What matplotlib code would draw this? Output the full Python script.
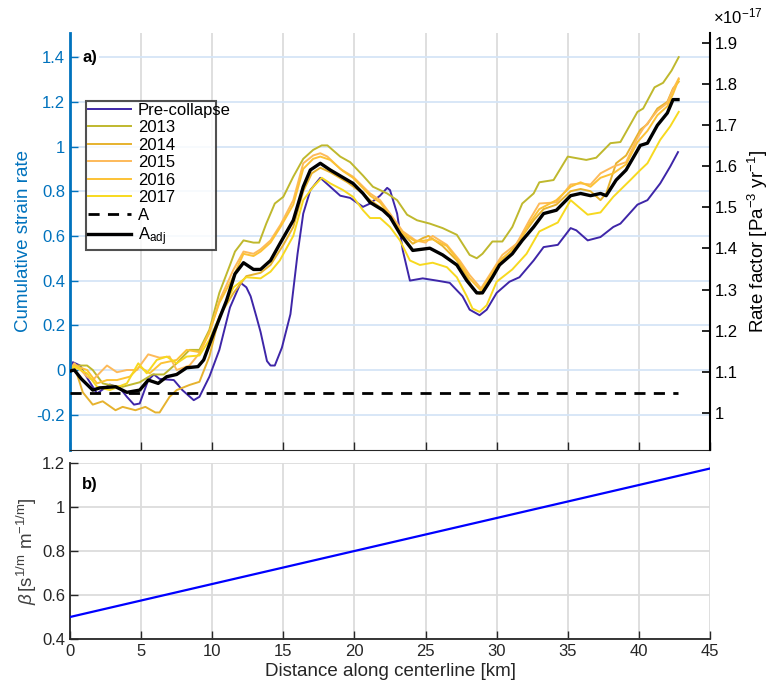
import matplotlib
matplotlib.use("Agg")
import matplotlib.pyplot as plt
from matplotlib.ticker import FuncFormatter

plt.rcParams['font.family'] = ['Liberation Sans', 'DejaVu Sans']
plt.rcParams['axes.unicode_minus'] = False
plt.rcParams['mathtext.fontset'] = 'custom'
plt.rcParams['mathtext.rm'] = 'Liberation Sans'
plt.rcParams['mathtext.it'] = 'Liberation Sans:italic'

# ---------------- data ----------------
pre_x = [0, 0.2, 0.7, 1.3, 1.9, 2.8, 3.5, 4.0, 4.5, 4.9, 5.5, 5.9, 6.3, 7.3, 7.9, 8.7, 9.1, 9.8, 10.5, 11.25,
         12.0, 12.4, 12.7, 13.1, 13.4, 13.85, 14.1, 14.4, 14.9, 15.5, 16.0, 16.4, 16.9, 17.6, 18.3, 19.0, 19.7,
         20.6, 21.1, 21.8, 22.3, 22.5, 23.0, 23.4, 23.9, 24.8, 25.8, 26.7, 27.6, 28.1, 28.8, 29.3, 30.0, 30.9,
         31.6, 32.6, 33.3, 34.3, 35.2, 35.6, 36.4, 37.3, 38.2, 38.7, 39.9, 40.6, 41.5, 42.2, 42.75]
pre_y = [-0.01, 0.035, 0.02, -0.045, -0.105, -0.065, -0.08, -0.12, -0.155, -0.15, -0.045, -0.02, -0.04, -0.045,
         -0.09, -0.135, -0.12, -0.03, 0.09, 0.28, 0.39, 0.37, 0.33, 0.24, 0.17, 0.04, 0.02, 0.02, 0.10, 0.25, 0.52,
         0.70, 0.805, 0.86, 0.82, 0.78, 0.77, 0.73, 0.745, 0.78, 0.815, 0.805, 0.70, 0.535, 0.40, 0.41, 0.40, 0.39,
         0.33, 0.27, 0.245, 0.27, 0.345, 0.395, 0.415, 0.49, 0.55, 0.56, 0.635, 0.625, 0.58, 0.595, 0.64, 0.655,
         0.74, 0.76, 0.835, 0.91, 0.975]

y2013_x = [0, 0.3, 1.2, 1.6, 2.3, 3.0, 3.7, 4.9, 5.8, 6.6, 7.5, 8.4, 9.1, 9.8, 10.5, 11.25, 11.6, 12.2, 12.9,
           13.3, 13.8, 14.4, 15.0, 15.7, 16.4, 17.1, 17.7, 18.1, 19.0, 19.7, 20.6, 21.3, 22.3, 23.0, 23.7, 24.4,
           25.3, 26.2, 27.2, 28.1, 28.6, 29.0, 29.7, 30.4, 31.1, 31.8, 32.6, 33.0, 34.0, 35.0, 36.3, 37.0, 38.0,
           38.7, 39.9, 40.3, 41.1, 41.7, 42.3, 42.8]
y2013_y = [0.01, 0.02, 0.02, 0.0, -0.06, -0.07, -0.075, -0.055, -0.02, -0.02, 0.03, 0.09, 0.09, 0.18, 0.345,
           0.47, 0.53, 0.58, 0.57, 0.57, 0.655, 0.745, 0.775, 0.865, 0.945, 0.985, 1.005, 1.005, 0.955, 0.93,
           0.87, 0.82, 0.79, 0.76, 0.695, 0.67, 0.655, 0.635, 0.605, 0.515, 0.50, 0.52, 0.575, 0.575, 0.64,
           0.745, 0.79, 0.84, 0.85, 0.955, 0.94, 0.95, 1.015, 1.02, 1.155, 1.17, 1.265, 1.285, 1.34, 1.40]

y2014_x = [0, 0.3, 0.9, 1.6, 2.3, 3.2, 3.7, 4.6, 5.3, 6.0, 6.3, 7.0, 7.5, 8.4, 9.1, 9.8, 10.5, 11.5, 12.4,
           13.4, 14.1, 15.0, 15.7, 16.4, 17.0, 17.6, 18.3, 19.5, 20.6, 21.1, 22.0, 22.5, 23.4, 24.1, 24.8, 25.2,
           26.2, 27.2, 27.9, 28.3, 28.8, 29.3, 30.0, 31.1, 31.8, 32.6, 33.3, 34.2, 35.2, 35.9, 36.6, 37.3, 37.7,
           38.4, 39.1, 40.1, 40.6, 41.3, 42.0, 42.4, 42.8]
y2014_y = [0.0, 0.02, -0.1, -0.155, -0.14, -0.18, -0.165, -0.18, -0.165, -0.19, -0.19, -0.12, -0.09, -0.067,
           -0.053, 0.06, 0.24, 0.345, 0.42, 0.435, 0.47, 0.56, 0.64, 0.80, 0.88, 0.905, 0.885, 0.84, 0.79, 0.76,
           0.72, 0.69, 0.61, 0.565, 0.59, 0.60, 0.555, 0.49, 0.42, 0.365, 0.34, 0.375, 0.47, 0.54, 0.60, 0.67,
           0.72, 0.74, 0.80, 0.81, 0.80, 0.76, 0.79, 0.925, 0.96, 1.075, 1.10, 1.17, 1.20, 1.26, 1.29]

y2015_x = [0, 0.3, 1.2, 1.6, 2.6, 3.3, 4.0, 4.7, 5.5, 6.3, 7.0, 7.5, 8.4, 9.1, 9.8, 10.5, 11.5, 12.2, 12.9,
           13.4, 14.1, 14.8, 15.7, 16.4, 17.1, 17.6, 18.1, 19.0, 19.9, 21.1, 21.8, 22.5, 23.4, 24.3, 25.0, 25.5,
           26.5, 27.4, 28.1, 28.9, 29.4, 30.4, 31.4, 32.3, 33.0, 34.2, 35.2, 35.9, 36.6, 37.3, 38.2, 39.1, 39.9,
           40.3, 41.3, 42.0, 42.4, 42.8]
y2015_y = [0.0, 0.03, -0.03, -0.045, 0.02, -0.01, 0.0, 0.0, 0.07, 0.055, 0.06, 0.0, 0.02, 0.075, 0.165, 0.31,
           0.45, 0.53, 0.52, 0.54, 0.58, 0.65, 0.76, 0.925, 0.96, 0.97, 0.955, 0.90, 0.865, 0.79, 0.76, 0.70,
           0.62, 0.58, 0.57, 0.60, 0.56, 0.49, 0.425, 0.365, 0.415, 0.515, 0.565, 0.67, 0.745, 0.75, 0.83,
           0.835, 0.83, 0.88, 0.91, 0.93, 1.04, 1.08, 1.16, 1.195, 1.255, 1.305]

y2016_x = [0, 0.3, 1.2, 1.9, 2.6, 3.3, 4.2, 4.9, 5.6, 6.4, 7.5, 8.2, 9.1, 9.8, 10.5, 11.5, 12.2, 12.9, 13.4,
           14.1, 14.8, 15.7, 16.4, 17.1, 17.6, 18.3, 19.2, 19.9, 21.1, 21.8, 22.5, 23.4, 24.3, 25.0, 25.5, 26.5,
           27.4, 28.1, 28.9, 29.4, 30.4, 31.4, 32.3, 33.0, 34.2, 35.2, 35.9, 36.6, 37.3, 38.2, 39.1, 39.9, 40.6,
           41.3, 42.0, 42.4, 42.8]
y2016_y = [0.0, 0.02, 0.0, -0.06, -0.045, -0.045, -0.03, 0.015, -0.015, 0.03, 0.045, 0.09, 0.08, 0.17, 0.30,
           0.42, 0.52, 0.51, 0.53, 0.57, 0.64, 0.74, 0.90, 0.945, 0.955, 0.94, 0.89, 0.86, 0.78, 0.75, 0.69,
           0.61, 0.575, 0.58, 0.585, 0.555, 0.48, 0.41, 0.355, 0.405, 0.50, 0.55, 0.655, 0.72, 0.76, 0.82, 0.84,
           0.82, 0.86, 0.88, 0.92, 1.02, 1.07, 1.14, 1.18, 1.235, 1.30]

y2017_x = [0, 0.3, 1.2, 1.9, 2.8, 4.0, 4.8, 5.4, 6.1, 6.8, 7.5, 8.2, 9.1, 9.8, 10.8, 11.5, 12.4, 13.4, 14.1,
           14.75, 15.7, 16.4, 17.1, 17.7, 18.3, 19.2, 19.9, 20.6, 21.1, 21.8, 22.5, 23.2, 23.9, 24.6, 25.5, 26.5,
           27.2, 27.9, 28.3, 28.8, 29.3, 30.0, 31.1, 32.1, 33.0, 34.3, 35.2, 36.4, 37.3, 38.2, 39.4, 40.1, 40.6,
           41.5, 42.2, 42.8]
y2017_y = [0.0, 0.015, -0.015, -0.075, -0.09, -0.06, 0.03, -0.015, 0.045, 0.06, 0.03, 0.06, 0.065, 0.135,
           0.28, 0.37, 0.415, 0.41, 0.44, 0.49, 0.60, 0.76, 0.82, 0.86, 0.835, 0.805, 0.775, 0.715, 0.68, 0.68,
           0.64, 0.58, 0.49, 0.47, 0.48, 0.46, 0.415, 0.33, 0.275, 0.26, 0.29, 0.395, 0.45, 0.52, 0.62, 0.66,
           0.76, 0.695, 0.705, 0.775, 0.85, 0.895, 0.925, 1.03, 1.09, 1.155]

adj_x = [0, 0.3, 0.8, 1.6, 2.1, 3.2, 4.0, 4.9, 5.5, 6.2, 6.8, 7.5, 8.2, 9.0, 9.4, 10.1, 11.0, 11.6, 12.2, 12.9,
         13.4, 14.1, 14.8, 15.7, 16.4, 16.9, 17.6, 18.3, 19.5, 19.9, 20.6, 21.1, 22.0, 22.5, 23.2, 24.1, 25.3,
         26.2, 27.2, 27.9, 28.6, 29.0, 29.7, 30.2, 31.1, 31.8, 32.6, 33.3, 34.2, 35.2, 35.9, 36.6, 37.3, 37.7,
         38.4, 39.1, 40.1, 40.6, 41.3, 42.0, 42.4, 42.75]
adj_y = [-0.005, 0.0, -0.04, -0.09, -0.08, -0.075, -0.10, -0.09, -0.045, -0.06, -0.03, -0.02, 0.01, 0.015,
         0.045, 0.165, 0.31, 0.43, 0.48, 0.45, 0.45, 0.49, 0.57, 0.67, 0.82, 0.895, 0.925, 0.895, 0.85, 0.835,
         0.79, 0.75, 0.715, 0.685, 0.61, 0.535, 0.545, 0.515, 0.47, 0.40, 0.345, 0.345, 0.415, 0.47, 0.52,
         0.58, 0.64, 0.70, 0.715, 0.78, 0.79, 0.78, 0.79, 0.78, 0.85, 0.895, 1.005, 1.015, 1.095, 1.15, 1.21,
         1.21]

A_x = [0, 42.75]
A_y = [-0.105, -0.105]

beta_x = [0, 45]
beta_y = [0.5, 1.175]

series_labels = ['Pre-collapse', '2013', '2014', '2015', '2016', '2017']
series_colors = ['#3E26A8', '#BFB82D', '#E6B22E', '#FDBA5A', '#FCC235', '#F7D91F']

left_ticks = [-0.2, 0, 0.2, 0.4, 0.6, 0.8, 1.0, 1.2, 1.4]
right_ticks = [1.0, 1.1, 1.2, 1.3, 1.4, 1.5, 1.6, 1.7, 1.8, 1.9]
x_ticks = [0, 5, 10, 15, 20, 25, 30, 35, 40, 45]
b_ticks = [0.4, 0.6, 0.8, 1.0, 1.2]

# ---------------- figure ----------------
BLUE = '#0072BD'
DARK = '#262626'
GRIDV = '#DCDCDC'
GRIDH = '#D5E5F7'
FS = 12

fig = plt.figure(figsize=(7.7, 6.9), dpi=100)
ax = fig.add_axes([70/770, 1-450/690, 640/770, 417/690])
axb = fig.add_axes([70/770, 1-639/690, 640/770, 176/690])

# panel a
ax.set_xlim(0, 45)
ax.set_ylim(-0.358, 1.508)
for xv in x_ticks[1:]:
    ax.axvline(xv, color=GRIDV, lw=1.3, zorder=0)
for yv in left_ticks:
    ax.axhline(yv, color=GRIDH, lw=1.3, zorder=0)

xs = [pre_x, y2013_x, y2014_x, y2015_x, y2016_x, y2017_x]
ys = [pre_y, y2013_y, y2014_y, y2015_y, y2016_y, y2017_y]
handles = []
for xx, yy, c, lab in zip(xs, ys, series_colors, series_labels):
    h, = ax.plot(xx, yy, color=c, lw=1.4, label=lab, zorder=2)
    handles.append(h)
hA, = ax.plot(A_x, A_y, color='black', lw=2.0, ls=(0, (4, 3)), label='A', zorder=3)
hAdj, = ax.plot(adj_x, adj_y, color='black', lw=2.4, label=r'A$_{\mathrm{adj}}$', zorder=4)
handles += [hA, hAdj]

ax.set_yticks(left_ticks)
ax.yaxis.set_major_formatter(FuncFormatter(lambda v, p: '%g' % round(v, 2)))
ax.set_xticks(x_ticks)
ax.set_xticklabels([])
ax.tick_params(axis='y', colors=BLUE, direction='in', length=6, width=1, labelsize=FS)
ax.tick_params(axis='x', direction='in', length=6, width=1, color=DARK)
ax.spines['left'].set_color(BLUE)
ax.spines['left'].set_linewidth(2.0)
ax.spines['top'].set_visible(False)
ax.spines['right'].set_visible(False)
ax.spines['bottom'].set_color(DARK)
ax.set_ylabel('Cumulative strain rate', color=BLUE, fontsize=13.5, labelpad=3)

ax2 = ax.twinx()
ax2.set_ylim(0.91, 1.924)
ax2.set_yticks(right_ticks)
ax2.yaxis.set_major_formatter(FuncFormatter(lambda v, p: '%g' % round(v, 2)))
ax2.tick_params(axis='y', direction='in', length=6, width=1.2, colors='black', labelsize=FS)
ax2.spines['right'].set_linewidth(1.5)
ax2.spines['top'].set_visible(False)
ax2.spines['left'].set_visible(False)
ax2.spines['bottom'].set_visible(False)
ax2.set_ylabel(r'Rate factor [Pa$^{-3}$ yr$^{-1}$]', fontsize=13.5, labelpad=6)
ax2.text(1.005, 1.015, r'$\times\mathregular{10}^{\mathregular{-17}}$', transform=ax.transAxes,
         fontsize=FS, ha='left', va='bottom')

ax.text(0.85, 1.4, 'a)', fontsize=FS, fontweight='bold', va='center', ha='left', zorder=5,
        bbox=dict(facecolor='white', edgecolor='none', pad=1.5))

leg = ax.legend(handles=handles, loc='lower left', bbox_to_anchor=(0.025, 0.48, 0.203, 0.362),
                mode='expand', fontsize=FS, frameon=True, fancybox=False, borderaxespad=0,
                handlelength=2.6, handletextpad=0.4, labelspacing=0.15, borderpad=0.12)
leg.get_frame().set_edgecolor('#262626')
leg.get_frame().set_linewidth(1.5)
leg.set_zorder(10)

# panel b
axb.set_xlim(0, 45)
axb.set_ylim(0.4, 1.2)
axb.set_xticks(x_ticks)
axb.set_yticks(b_ticks)
axb.yaxis.set_major_formatter(FuncFormatter(lambda v, p: '%g' % round(v, 2)))
axb.grid(True, color=GRIDV, lw=1.3)
axb.set_axisbelow(True)
axb.plot(beta_x, beta_y, color='#0000FF', lw=1.6, zorder=3)
axb.tick_params(direction='in', length=6, width=1, colors=DARK, labelsize=FS)
for s in ['top', 'right']:
    axb.spines[s].set_visible(False)
for s in ['left', 'bottom']:
    axb.spines[s].set_color(DARK)
    axb.spines[s].set_linewidth(1.3)
axb.set_ylabel(r'$\beta\,[\mathregular{s}^{\mathregular{1/m}}\ \mathregular{m}^{\mathregular{-1/m}}]$',
               fontsize=13.5, color='#404040', labelpad=2)
axb.set_xlabel('Distance along centerline [km]', fontsize=13.5, color=DARK, labelpad=3)
axb.text(0.85, 1.1, 'b)', fontsize=FS, fontweight='bold', va='center', ha='left', zorder=5,
         bbox=dict(facecolor='white', edgecolor='none', pad=1.5))

fig.savefig('out.png', dpi=100)
